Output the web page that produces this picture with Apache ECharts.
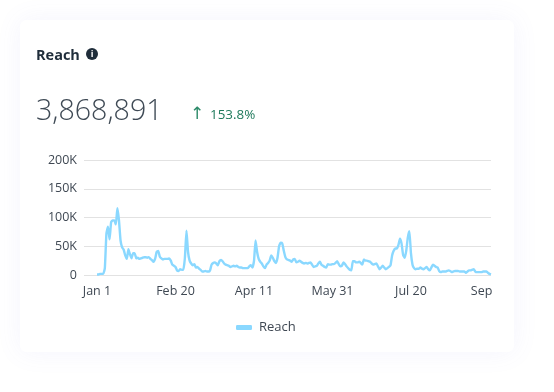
<!DOCTYPE html>
<html><head><meta charset="utf-8">
<style>html,body{margin:0;padding:0;background:#fff}#c{width:554px;height:392px}</style>
<script src="https://cdn.jsdelivr.net/npm/echarts@6/dist/echarts.min.js"></script>
</head><body><div id="c"></div>
<script>
const seriesName = "Reach";
const reachK = [
1,1,2,2,2,12,72,84,62,92,95,95,88,116,95,60,48,44,34,28,45,36,29,38,38,29,30,28,29,30,
31,31,30,31,28,26,23,28,40,42,32,29,27,28,28,28,29,25,18,16,14,8,7,10,9,9,30,77,40,25,
20,17,19,13,14,11,9,6,6,7,6,6,8,18,21,22,20,17,24,26,24,20,18,17,16,14,15,16,15,16,
14,13,13,12,12,12,12,15,17,13,24,60,40,28,23,20,15,12,18,21,25,34,30,24,21,30,50,56,55,42,
31,27,26,25,23,27,28,22,23,25,23,21,20,21,20,21,22,18,14,15,16,20,23,18,16,14,13,19,18,18,
19,19,21,24,19,15,16,22,19,15,12,9,8,24,24,22,22,23,21,18,27,25,25,24,23,20,18,19,20,15,
10,13,16,13,10,12,14,17,34,42,46,46,52,63,55,35,30,42,65,76,38,18,12,10,11,11,13,11,10,12,
14,10,8,13,18,16,14,13,7,5,6,6,6,7,8,7,5,6,7,7,7,6,6,6,6,4,6,8,8,9,
10,6,5,5,5,5,6,6,6,4,2,1];
const tickDays = [0,50,100,150,200,245];
const tickLabels = ["Jan 1","Feb 20","Apr 11","May 31","Jul 20","Sep"];
const yMax = 200, yStep = 50;
const titleText = "Reach", totalText = "3,868,891", changeText = "153.8%", arrowText = "↑";

const font = "'Open Sans','Noto Sans',sans-serif";
const values = reachK.map(v => v * 1000);
const cats = values.map((_, i) => String(i));
const chart = echarts.init(document.getElementById('c'), null, {renderer:'canvas'});
chart.setOption({
  animation:false,
  backgroundColor:'#fff',
  graphic:[
    {type:'rect',z:-10,silent:true,shape:{x:20,y:20,width:494,height:332,r:6},
     style:{fill:'#fff',shadowBlur:26,shadowColor:'rgba(120,110,230,0.08)'}},
    {type:'text',left:36,top:48,style:{text:titleText,fill:'#1f2d3a',font:"700 14.5px "+font}},
    {type:'circle',shape:{cx:92,cy:54,r:6},style:{fill:'#1f2d3a'}},
    {type:'text',x:92,y:54,style:{text:'i',fill:'#fff',align:'center',verticalAlign:'middle',font:"700 9px "+font}},
    {type:'text',left:36,top:97,style:{text:totalText,fill:'#3f4a55',font:"300 28.6px "+font}},
    {type:'text',left:190,top:106,style:{text:arrowText,fill:'#2e8b6a',font:"400 17px 'DejaVu Sans',sans-serif"}},
    {type:'text',left:210,top:109,style:{text:changeText,fill:'#1f7a5c',font:"400 13.4px "+font}}
  ],
  grid:{left:97,right:63,top:160,bottom:117,containLabel:false},
  legend:{show:true,bottom:53,left:231,itemWidth:16,itemHeight:5,itemGap:7,icon:'roundRect',
    textStyle:{color:'#3f4853',fontSize:13,fontFamily:font,padding:[0,0,0,2]},data:[seriesName]},
  xAxis:{type:'category',boundaryGap:false,data:cats,
    axisLine:{show:false},axisTick:{show:false},
    axisLabel:{color:'#3f4853',fontSize:12.5,fontFamily:font,margin:10,hideOverlap:false,
      interval:(i)=>tickDays.includes(i),
      formatter:(v,i)=>{const k=tickDays.indexOf(Number(v));return k>=0?tickLabels[k]:'';}}},
  yAxis:{type:'value',min:0,max:yMax*1000,interval:yStep*1000,
    axisLine:{show:false},
    axisTick:{show:true,length:13,lineStyle:{color:'#e2e2e2',width:1}},
    splitLine:{lineStyle:{color:'#e2e2e2',width:1}},
    axisLabel:{color:'#3f4853',fontSize:12.5,fontFamily:font,margin:20,padding:[2,0,0,0],
      formatter:v=>v===0?'0':(v/1000)+'K'}},
  series:[{name:seriesName,type:'line',data:values,showSymbol:false,smooth:0.15,
    lineStyle:{color:'#8ad8ff',width:2.4},itemStyle:{color:'#8ad8ff'}}]
});
</script></body></html>
